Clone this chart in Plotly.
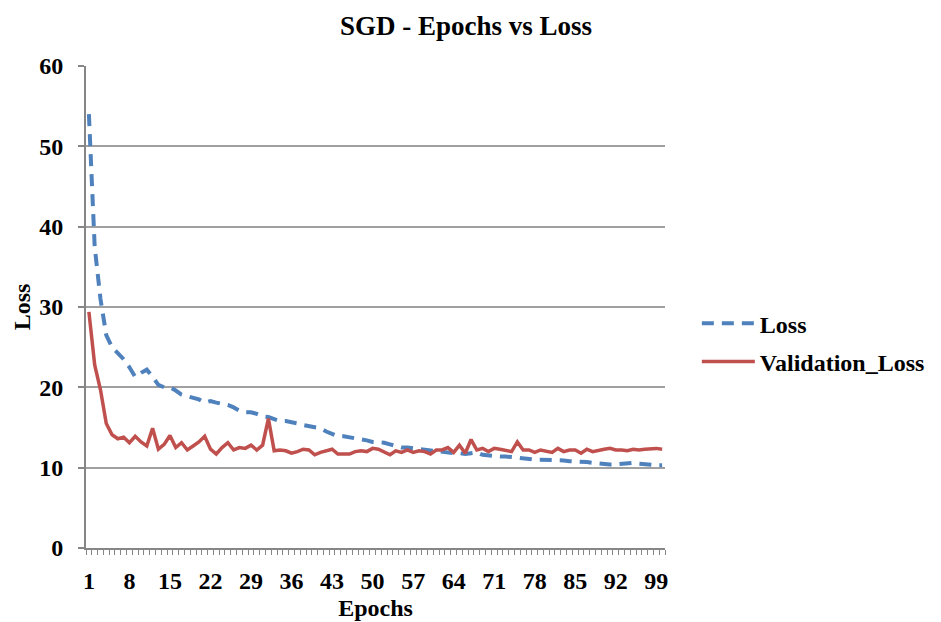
import plotly.graph_objects as go

epochs = list(range(1, 101))

loss = [54.0, 37.5, 31.0, 26.5, 25.0, 24.3, 23.5, 22.5, 21.3, 21.8,
        22.2, 21.3, 20.3, 20.0, 20.0, 19.6, 19.1, 18.9, 18.7, 18.5,
        18.1, 18.3, 18.1, 18.0, 17.8, 17.5, 17.1, 16.9, 16.9, 16.7,
        16.4, 16.3, 16.0, 15.8, 15.8, 15.7, 15.5, 15.3, 15.2, 15.1,
        14.9, 14.5, 14.2, 13.9, 13.9, 13.8, 13.6, 13.5, 13.4, 13.2,
        13.2, 13.1, 12.9, 12.7, 12.5, 12.5, 12.4, 12.3, 12.3, 12.2,
        12.1, 12.0, 11.9, 11.8, 11.8, 11.7, 11.8, 11.9, 11.6, 11.5,
        11.4, 11.4, 11.4, 11.3, 11.2, 11.1, 11.1, 11.0, 11.0, 11.0,
        11.0, 11.0, 10.9, 10.8, 10.8, 10.8, 10.7, 10.6, 10.5, 10.45,
        10.4, 10.4, 10.5, 10.6, 10.6, 10.5, 10.4, 10.4, 10.3, 10.3]

val_loss = [29.4, 22.8, 19.7, 15.5, 14.1, 13.6, 13.8, 13.1, 13.9, 13.2,
            12.7, 14.9, 12.3, 12.9, 14.0, 12.5, 13.1, 12.2, 12.7, 13.2,
            13.9, 12.3, 11.7, 12.5, 13.1, 12.2, 12.5, 12.4, 12.8, 12.2,
            12.8, 16.1, 12.1, 12.2, 12.1, 11.8, 12.0, 12.3, 12.2, 11.6,
            11.9, 12.1, 12.3, 11.7, 11.7, 11.7, 12.0, 12.1, 12.0, 12.4,
            12.3, 12.0, 11.6, 12.1, 11.9, 12.2, 11.9, 12.1, 12.0, 11.7,
            12.2, 12.2, 12.5, 11.9, 12.8, 11.8, 13.5, 12.2, 12.4, 12.0,
            12.4, 12.3, 12.2, 12.0, 13.2, 12.2, 12.2, 11.9, 12.2, 12.0,
            11.9, 12.4, 12.0, 12.2, 12.2, 11.8, 12.3, 12.0, 12.2, 12.3,
            12.4, 12.2, 12.2, 12.1, 12.3, 12.2, 12.3, 12.4, 12.4, 12.3]

x_tick_vals = list(range(1, 101, 7))
y_tick_vals = [0, 10, 20, 30, 40, 50, 60]

FONT = "Liberation Serif"
fig = go.Figure()
fig.add_trace(go.Scatter(x=epochs, y=loss, mode="lines", name="Loss", legendgroup="a",
                         line=dict(color="#4F81BD", width=4, dash="12px,8px")))
fig.add_trace(go.Scatter(x=epochs, y=val_loss, mode="lines", name="Validation_Loss",
                         legendgroup="b",
                         line=dict(color="#C0504D", width=3.5)))

fig.update_layout(
    width=941, height=622,
    margin=dict(l=86, r=276, t=66, b=74, autoexpand=False),
    paper_bgcolor="white", plot_bgcolor="white",
    font=dict(family=FONT, size=23, color="black", weight="bold"),
    title=dict(text="SGD - Epochs vs Loss", x=(466 / 941), xanchor="center",
               y=1 - 26 / 622, yanchor="middle",
               font=dict(family=FONT, size=27, color="black", weight="bold")),
    showlegend=True,
    legend=dict(x=1.055, y=0.426, xanchor="left", yanchor="middle",
                font=dict(family=FONT, size=24, color="black", weight="bold"),
                bgcolor="rgba(0,0,0,0)", itemwidth=53, tracegroupgap=4),
)
fig.update_xaxes(
    range=[0.5, 100.5], tickmode="array", tickvals=x_tick_vals,
    ticktext=[str(v) for v in x_tick_vals],
    showgrid=False, zeroline=False, automargin=False,
    showline=True, linecolor="#868686", linewidth=2,
    ticks="", ticklabelstandoff=10,
    minor=dict(ticks="outside", tickmode="linear", tick0=0.5, dtick=1,
               ticklen=5, tickcolor="#868686", tickwidth=1, showgrid=False),
    title=dict(text="Epochs", standoff=6,
               font=dict(family=FONT, size=24, color="black", weight="bold")),
    tickfont=dict(family=FONT, size=24, color="black", weight="bold"),
)
fig.update_yaxes(
    range=[0, 60], tickmode="array", tickvals=y_tick_vals,
    showgrid=True, gridcolor="#A0A0A0", gridwidth=1.5,
    zeroline=False, showline=True, linecolor="#868686", linewidth=2,
    ticks="outside", ticklen=6, tickcolor="#868686", tickwidth=1.5,
    ticklabelstandoff=10, automargin=False,
    title=dict(text="Loss", standoff=2,
               font=dict(family=FONT, size=24, color="black", weight="bold")),
    tickfont=dict(family=FONT, size=24, color="black", weight="bold"),
)

fig.write_html("out.html")
